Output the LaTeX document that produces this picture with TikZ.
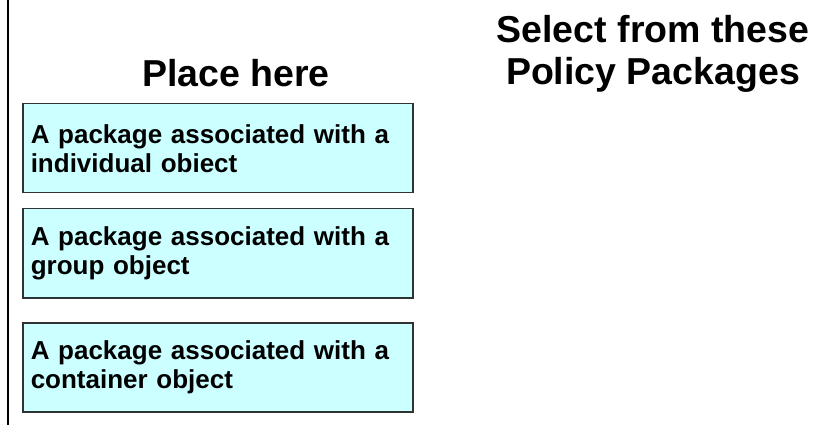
\documentclass[tikz,border=0pt]{standalone}
\usepackage{fontspec}
\setmainfont{Liberation Sans}
\definecolor{boxfill}{HTML}{CCFFFF}
\definecolor{boxedge}{HTML}{2E3434}
\begin{document}
\begin{tikzpicture}[x=1pt,y=-1pt,
  pkg/.style={draw=boxedge,line width=1.5pt,fill=boxfill,minimum width=388pt,minimum height=89pt,
    text width=374pt,align=left,inner xsep=8pt,anchor=north west,
    font=\fontsize{26}{29}\selectfont\bfseries},
  title/.style={align=center,font=\fontsize{37.5}{42}\selectfont\bfseries}]
\useasboundingbox (0,0) rectangle (815,425);
\fill[white] (0,0) rectangle (815,425);
\coordinate (ltop) at (8,0);
\coordinate (lbot) at (8,425);
\draw[line width=1.6pt,black] (ltop) -- (lbot);
\node[title] (place) at (236,73) {Place here};
\node[title] (select) at (653,54) {Select from these\\Policy Packages};
\node[pkg] (b1) at (22,103) {A package associated with a\\individual obiect};
\node[pkg] (b2) at (22,208) {A package associated with a\\group object};
\node[pkg] (b3) at (22,322) {A package associated with a\\container object};
\end{tikzpicture}
\end{document}
